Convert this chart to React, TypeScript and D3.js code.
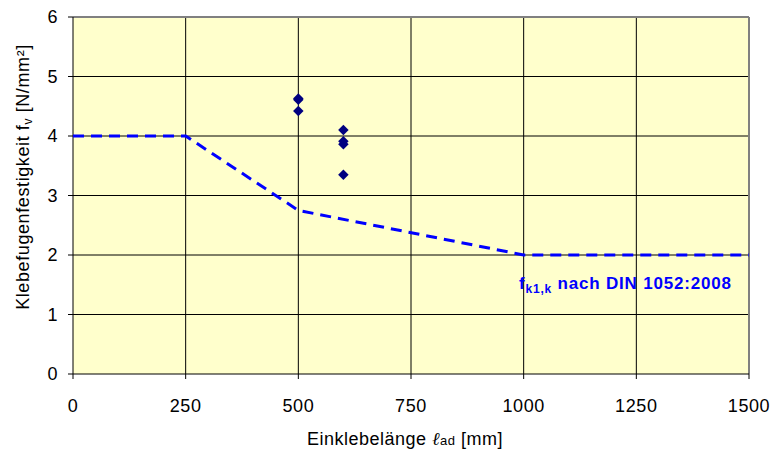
import React from "react";
import * as d3 from "d3";

const xTicks = [0, 250, 500, 750, 1000, 1250, 1500];
const yTicks = [0, 1, 2, 3, 4, 5, 6];
const testLengths = [500, 500, 500, 600, 600, 600, 600];
const testStrengths = [4.63, 4.61, 4.42, 4.1, 3.91, 3.86, 3.35];
const dinLengths = [0, 250, 500, 1000, 1500];
const dinStrengths = [4.0, 4.0, 2.75, 2.0, 2.0];

export default function App() {
  const W = 773, H = 456;
  const x = d3.scaleLinear().domain([0, 1500]).range([73, 749]);
  const y = d3.scaleLinear().domain([0, 6]).range([374, 17]);
  const line = d3.line<number>().x((d, i) => x(dinLengths[i])).y((d) => y(d));
  const font = "'Liberation Sans', Arial, sans-serif";
  const diamond = d3.symbol().type(d3.symbolDiamond2).size(70)();
  return (
    <svg width={W} height={H} style={{ position: "absolute", left: 0, top: 0 }} fontFamily={font}>
      <rect x={x(0)} y={y(6)} width={x(1500) - x(0)} height={y(0) - y(6)} fill="#FFFFCC" />
      {yTicks.slice(1, -1).map((t) => (
        <line key={"gy" + t} x1={x(0)} x2={x(1500)} y1={y(t)} y2={y(t)} stroke="#000" strokeWidth={1} />
      ))}
      {xTicks.slice(1, -1).map((t) => (
        <line key={"gx" + t} x1={x(t)} x2={x(t)} y1={y(0)} y2={y(6)} stroke="#000" strokeWidth={1} />
      ))}
      <line x1={x(0)} x2={x(1500)} y1={y(6)} y2={y(6)} stroke="#808080" strokeWidth={2} />
      <line x1={x(1500)} x2={x(1500)} y1={y(0)} y2={y(6)} stroke="#808080" strokeWidth={2} />
      <line x1={x(0)} x2={x(0)} y1={y(0)} y2={y(6)} stroke="#000" strokeWidth={1} />
      <line x1={x(0)} x2={x(1500)} y1={y(0)} y2={y(0)} stroke="#000" strokeWidth={1} />
      {yTicks.map((t) => (
        <g key={"ty" + t}>
          <line x1={x(0) - 5} x2={x(0)} y1={y(t)} y2={y(t)} stroke="#000" />
          <text x={x(0) - 15} y={y(t)} dy="0.36em" textAnchor="end" fontSize={18} letterSpacing={0.5}>{t}</text>
        </g>
      ))}
      {xTicks.map((t) => (
        <g key={"tx" + t}>
          <line x1={x(t)} x2={x(t)} y1={y(0)} y2={y(0) + 5} stroke="#000" />
          <text x={x(t)} y={y(0) + 38} textAnchor="middle" fontSize={18} letterSpacing={0.6}>{t}</text>
        </g>
      ))}
      <path d={line(dinStrengths) || ""} fill="none" stroke="#0000FF" strokeWidth={3} strokeDasharray="11 7" />
      {testStrengths.map((v, i) => (
        <path key={"p" + i} d={diamond || ""} transform={`translate(${x(testLengths[i])},${y(v)})`} fill="#000080" />
      ))}
      <text x={519} y={289} fill="#0000FF" fontWeight="bold" fontSize={17} letterSpacing={0.8}>
        f<tspan fontSize={12} dy={4}>k1,k</tspan>
        <tspan dy={-4}> nach DIN 1052:2008</tspan>
      </text>
      <text x={405} y={445} textAnchor="middle" fontSize={18} letterSpacing={0.5}>
        Einklebelänge <tspan fontStyle="italic" fontFamily="'DejaVu Serif', serif">ℓ</tspan>
        <tspan fontSize={13}>ad</tspan> [mm]
      </text>
      <text transform={`translate(29,177) rotate(-90)`} textAnchor="middle" fontSize={18} letterSpacing={0.6}>
        Klebefugenfestigkeit f<tspan fontSize={12} dy={3}>v</tspan>
        <tspan dy={-3}> [N/mm²]</tspan>
      </text>
    </svg>
  );
}
